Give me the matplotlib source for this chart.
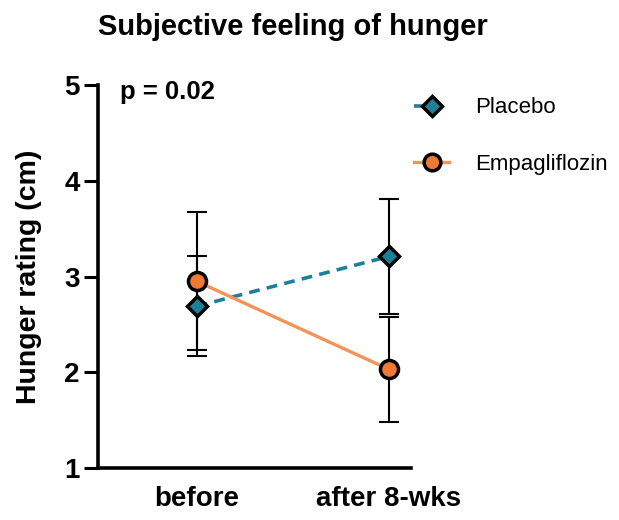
import matplotlib
matplotlib.use("Agg")
import matplotlib.pyplot as plt
from matplotlib.lines import Line2D

plt.rcParams['font.family'] = ['Liberation Sans', 'DejaVu Sans']

categories = ["before", "after 8-wks"]
placebo_mean = [2.69, 3.21]
placebo_err = [0.52, 0.60]
empa_mean = [2.95, 2.03]
empa_err = [0.72, 0.55]
yticks = [1, 2, 3, 4, 5]

teal = '#1b8199'
orange = '#f07a35'
orange_line = '#f39358'

fig = plt.figure(figsize=(6.19, 5.20), dpi=100)
ax = fig.add_axes([0.158, 0.1, 0.5055, 0.7365])

x = list(range(len(categories)))

ax.errorbar(x, placebo_mean, yerr=placebo_err, fmt='none', ecolor='black',
            elinewidth=1.5, capsize=7, capthick=1.5, zorder=2)
ax.errorbar(x, empa_mean, yerr=empa_err, fmt='none', ecolor='black',
            elinewidth=1.5, capsize=7, capthick=1.5, zorder=2)

ax.plot(x, placebo_mean, linestyle=(0, (3, 2)), color=teal, lw=2.6, zorder=3)
ax.plot(x, empa_mean, linestyle='-', color=orange_line, lw=2.4, zorder=3)
ax.plot(x, placebo_mean, linestyle='none', marker='D', ms=10, mfc=teal,
        mec='black', mew=2.5, zorder=4)
ax.plot(x, empa_mean, linestyle='none', marker='o', ms=13, mfc=orange,
        mec='black', mew=2.5, zorder=5)

ax.set_xlim(-0.515, 1.113)
ax.set_ylim(1, 5)
ax.set_yticks(yticks)
ax.set_yticklabels([str(t) for t in yticks], fontsize=20, fontweight='bold')
ax.set_xticks(x)
ax.set_xticklabels(categories, fontsize=20, fontweight='bold')
ax.tick_params(axis='y', length=10, width=2.2, pad=3)
ax.tick_params(axis='x', length=0, pad=13)
for s in ['top', 'right']:
    ax.spines[s].set_visible(False)
for s in ['left', 'bottom']:
    ax.spines[s].set_linewidth(2.6)
ax.spines['bottom'].set_bounds(-0.515, 1.113)

ax.set_ylabel('Hunger rating (cm)', fontsize=20.5, fontweight='bold', labelpad=16)
fig.text(0.473, 0.948, 'Subjective feeling of hunger', fontsize=21,
         fontweight='bold', ha='center', va='center')
ax.text(0.07, 0.982, 'p = 0.02', transform=ax.transAxes, fontsize=18.5,
        fontweight='bold', ha='left', va='center')

handles = [
    Line2D([], [], linestyle=(0, (3, 2)), color=teal, lw=2.6, marker='D', ms=10,
           mfc=teal, mec='black', mew=2.5),
    Line2D([], [], linestyle='-', color=orange_line, lw=2.4, marker='o', ms=12,
           mfc=orange, mec='black', mew=2.5),
]
fig.legend(handles, ['Placebo', 'Empagliflozin'], loc='upper left',
           bbox_to_anchor=(0.637, 0.851), frameon=False, fontsize=16,
           handlelength=1.55, labelspacing=1.6, handletextpad=1.2)

fig.savefig('out.png', dpi=100)
